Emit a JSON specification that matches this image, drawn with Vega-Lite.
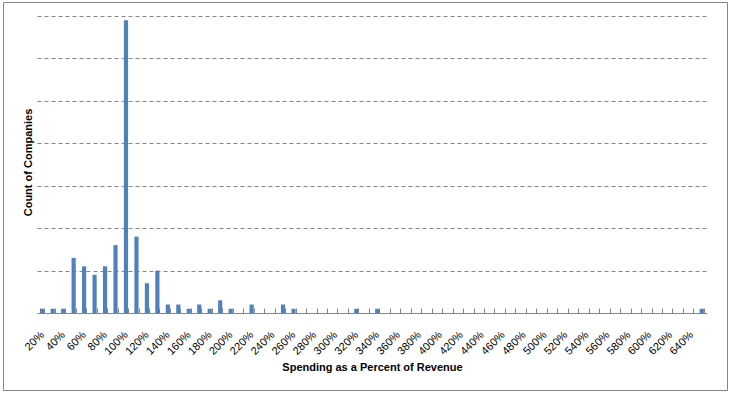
{
  "$schema": "https://vega.github.io/schema/vega-lite/v6.json",
  "width": 724,
  "height": 388,
  "autosize": {"type": "none"},
  "padding": {"left": 3, "top": 2, "right": 4, "bottom": 4},
  "background": "white",
  "config": {
    "view": {"stroke": "#868686", "strokeWidth": 1},
    "font": "Liberation Sans"
  },
  "data": {
    "values": [
      {"pct": 20, "count": 1}, {"pct": 30, "count": 1}, {"pct": 40, "count": 1},
      {"pct": 50, "count": 13}, {"pct": 60, "count": 11}, {"pct": 70, "count": 9},
      {"pct": 80, "count": 11}, {"pct": 90, "count": 16}, {"pct": 100, "count": 69},
      {"pct": 110, "count": 18}, {"pct": 120, "count": 7}, {"pct": 130, "count": 10},
      {"pct": 140, "count": 2}, {"pct": 150, "count": 2}, {"pct": 160, "count": 1},
      {"pct": 170, "count": 2}, {"pct": 180, "count": 1}, {"pct": 190, "count": 3},
      {"pct": 200, "count": 1}, {"pct": 210, "count": 0}, {"pct": 220, "count": 2},
      {"pct": 230, "count": 0}, {"pct": 240, "count": 0}, {"pct": 250, "count": 2},
      {"pct": 260, "count": 1}, {"pct": 270, "count": 0}, {"pct": 280, "count": 0},
      {"pct": 290, "count": 0}, {"pct": 300, "count": 0}, {"pct": 310, "count": 0},
      {"pct": 320, "count": 1}, {"pct": 330, "count": 0}, {"pct": 340, "count": 1},
      {"pct": 350, "count": 0}, {"pct": 360, "count": 0}, {"pct": 370, "count": 0},
      {"pct": 380, "count": 0}, {"pct": 390, "count": 0}, {"pct": 400, "count": 0},
      {"pct": 410, "count": 0}, {"pct": 420, "count": 0}, {"pct": 430, "count": 0},
      {"pct": 440, "count": 0}, {"pct": 450, "count": 0}, {"pct": 460, "count": 0},
      {"pct": 470, "count": 0}, {"pct": 480, "count": 0}, {"pct": 490, "count": 0},
      {"pct": 500, "count": 0}, {"pct": 510, "count": 0}, {"pct": 520, "count": 0},
      {"pct": 530, "count": 0}, {"pct": 540, "count": 0}, {"pct": 550, "count": 0},
      {"pct": 560, "count": 0}, {"pct": 570, "count": 0}, {"pct": 580, "count": 0},
      {"pct": 590, "count": 0}, {"pct": 600, "count": 0}, {"pct": 610, "count": 0},
      {"pct": 620, "count": 0}, {"pct": 630, "count": 0}, {"pct": 640, "count": 0},
      {"pct": 650, "count": 1}
    ]
  },
  "mark": {"type": "bar", "color": "#4F81BD"},
  "encoding": {
    "x": {
      "field": "pct",
      "type": "ordinal",
      "sort": "ascending",
      "scale": {"range": [34, 704], "paddingInner": 0.6, "paddingOuter": 0.3},
      "axis": {
        "title": "Spending as a Percent of Revenue",
        "titleFont": "Liberation Sans",
        "titleFontSize": 11,
        "titleFontWeight": "bold",
        "titleColor": "#000000",
        "titleY": 54,
        "titleBaseline": "middle",
        "offset": -77,
        "domainColor": "#868686",
        "domainWidth": 1,
        "tickColor": "#868686",
        "tickBand": "extent",
        "tickSize": -5,
        "labelAngle": -45,
        "labelAlign": "right",
        "labelBaseline": "middle",
        "labelPadding": 25,
        "labelOverlap": false,
        "labelFontSize": 11,
        "labelColor": "#000000",
        "labelExpr": "datum.value % 20 == 0 ? datum.value + '%' : ''",
        "grid": false
      }
    },
    "y": {
      "field": "count",
      "type": "quantitative",
      "scale": {"domain": [0, 70], "range": [311, 14], "nice": false},
      "axis": {
        "title": "Count of Companies",
        "titleFont": "Liberation Sans",
        "titleFontSize": 11,
        "titleFontWeight": "bold",
        "titleColor": "#000000",
        "titleX": 25,
        "titleY": 160,
        "titleBaseline": "middle",
        "titleAlign": "center",
        "values": [10, 20, 30, 40, 50, 60, 70],
        "labels": false,
        "ticks": false,
        "domain": false,
        "grid": true,
        "gridColor": "#868686",
        "gridDash": [4, 3],
        "gridWidth": 1
      }
    }
  }
}
